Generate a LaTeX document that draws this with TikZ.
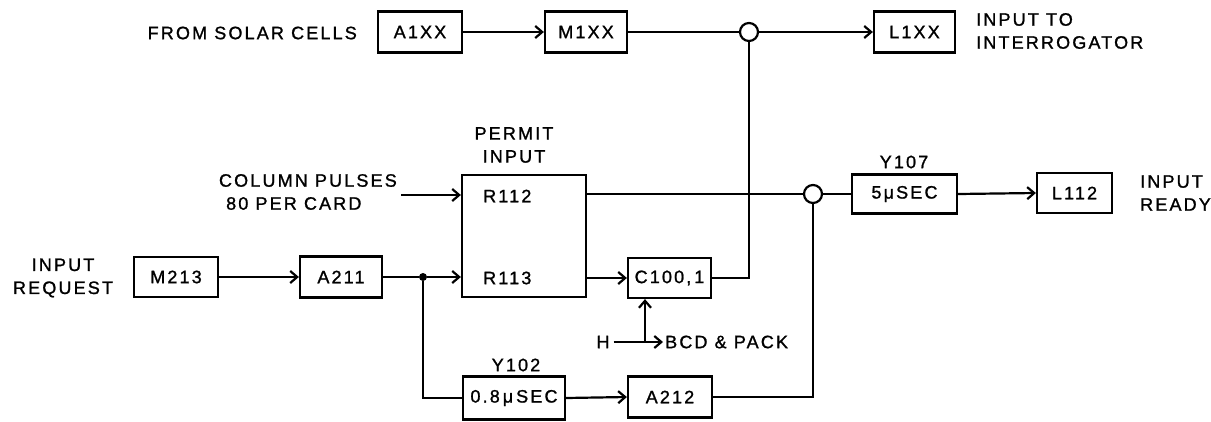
\documentclass[tikz,border=0pt]{standalone}
\usepackage{fontspec}
\setmainfont{Liberation Sans}[LetterSpace=12,FakeBold=1.2]
\usetikzlibrary{arrows.meta}
\begin{document}
\begin{tikzpicture}[x=1pt,y=-1pt,
  font=\fontsize{18}{23}\selectfont,
  blk/.style={draw,line width=2.2pt,inner sep=0pt,minimum height=41pt,align=center},
  wire/.style={line width=2.2pt},
  arr/.style={line width=2.2pt,-{Straight Barb[length=7pt,width=12pt,line width=2.2pt]}},
  junc/.style={circle,draw,line width=2.2pt,fill=white,minimum size=18pt,inner sep=0pt},
  dotn/.style={circle,fill=black,minimum size=8pt,inner sep=0pt},
  lbl/.style={inner sep=0pt,align=center}]
\useasboundingbox (0,0) rectangle (1211,421);
% top row
\node[lbl,anchor=east] (solar) at (357,33) {FROM SOLAR CELLS};
\node[blk,minimum width=84pt] (aixx) at (420,32) {A1XX};
\node[blk,minimum width=82pt] (mixx) at (586,32) {M1XX};
\node[junc] (c1) at (749,32) {};
\node[blk,minimum width=81pt] (lixx) at (914.5,32) {L1XX};
\node[lbl,anchor=west,align=left] (interr) at (976,31) {INPUT TO\\INTERROGATOR};
% middle
\node[lbl] (permitlbl) at (514,145) {PERMIT\\INPUT};
\node[draw,line width=2.2pt,minimum width=124pt,minimum height=122pt,inner sep=0pt] (permit) at (524,236) {};
\node[lbl,anchor=west] (r112) at (483,196) {R112};
\node[lbl,anchor=west] (r113) at (483,278) {R113};
\node[lbl,anchor=east,align=left] (colp) at (397,192) {COLUMN PULSES\\\ 80 PER CARD};
\coordinate (cpin) at (401,195);
\node[blk,minimum width=83pt,minimum height=40pt] (c100) at (669.5,278) {C100,\,1};
\node[junc] (c2) at (813,194) {};
\node[lbl] (y107lbl) at (904,162) {Y107};
\node[blk,minimum width=105pt,minimum height=39pt] (y107) at (904.5,194) {5μSEC};
\node[blk,minimum width=75pt,minimum height=40pt] (l112) at (1074.5,193) {L112};
\node[lbl,anchor=west,align=left] (ready) at (1140,193) {INPUT\\READY};
% lower
\node[lbl] (inreq) at (63,278) {INPUT\\REQUEST};
\node[blk,minimum width=84pt,minimum height=40pt] (m213) at (176,277) {M213};
\node[blk,minimum width=82pt] (a211) at (341,277) {A211};
\node[dotn] (dot) at (423,277) {};
\node[lbl] (hlbl) at (603,342) {H};
\node[lbl,anchor=west] (bcd) at (665,342) {BCD \& PACK};
\coordinate (hj) at (645,342);
\node[lbl] (y102lbl) at (516,365) {Y102};
\node[blk,minimum width=102pt,minimum height=43pt] (y102) at (514,398) {0.8\,μ\,SEC};
\node[blk,minimum width=84pt] (a212) at (670,397) {A212};
% connectors
\draw[arr] (aixx.east) -- (mixx.west);
\draw[wire] (mixx.east) -- (c1.west);
\draw[arr] (c1.east) -- (lixx.west);
\draw[wire] (c100.east) -| (c1.south);
\draw[arr] (cpin) -- (cpin -| permit.west);
\draw[wire] (permit.east |- c2.west) -- (c2.west);
\draw[wire] (c2.east) -- (y107.west);
\draw[arr] (y107.east) -- (l112.west);
\draw[arr] (m213.east) -- (a211.west);
\draw[wire] (a211.east) -- (dot);
\draw[arr] (dot) -- (dot -| permit.west);
\draw[arr] (permit.east |- c100.west) -- (c100.west);
\draw[wire] (dot) |- (y102.west);
\draw[arr] (y102.east) -- (a212.west);
\draw[wire] (a212.east) -| (c2.south);
\draw[arr] (hlbl.east) ++(4,0) -- ([xshift=-2pt]bcd.west);
\draw[arr] (hj) -- (hj |- c100.south);
\end{tikzpicture}
\end{document}
